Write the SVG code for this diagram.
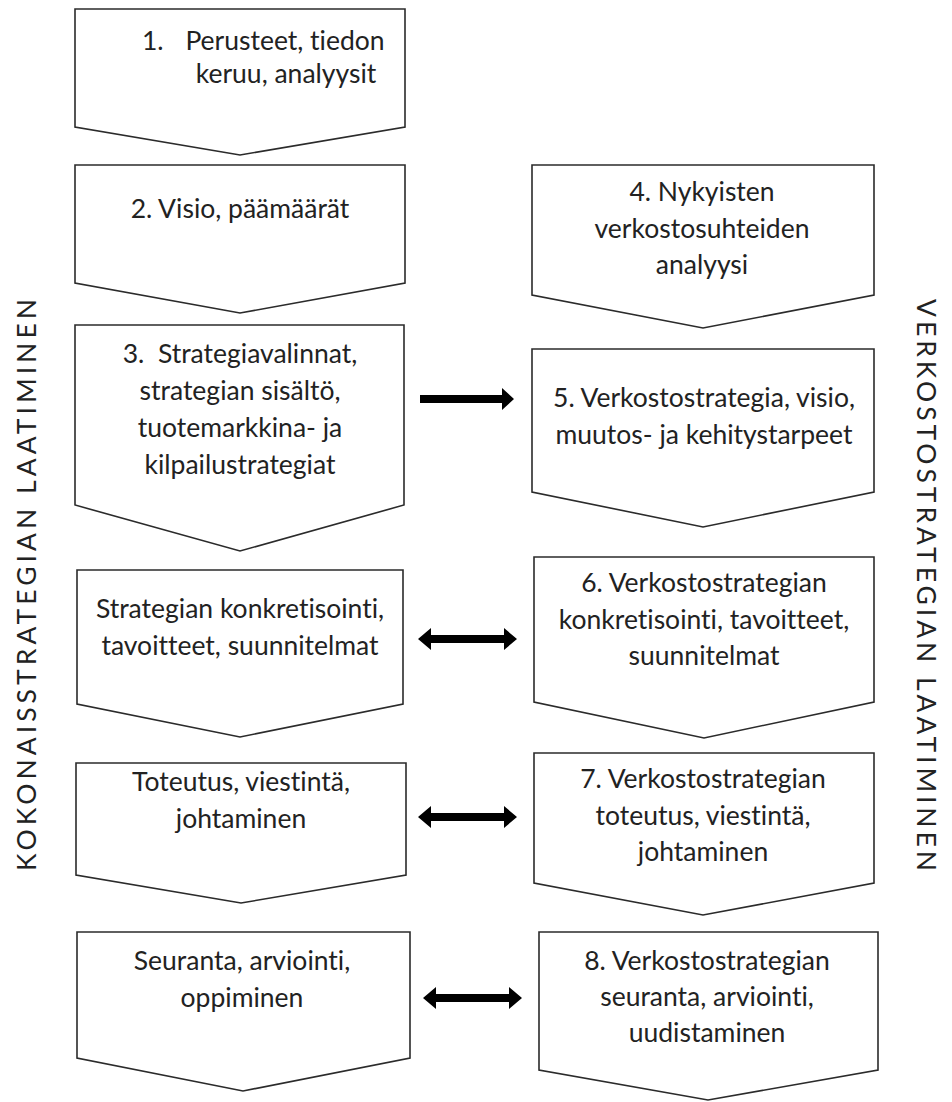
<svg xmlns="http://www.w3.org/2000/svg" width="952" height="1102" viewBox="0 0 952 1102">
<style>
.box{fill:#fff;stroke:#2b2b2b;stroke-width:1.6;stroke-linejoin:miter}
.t{font-family:Lato,"Open Sans","Liberation Sans",sans-serif;font-size:26.5px;fill:#222;text-anchor:middle;font-variant-ligatures:none}
.side{font-family:Lato,"Open Sans","Liberation Sans",sans-serif;font-size:26.5px;fill:#222;text-anchor:middle;font-variant-ligatures:none}
.arr{fill:#000}
</style>
<rect width="952" height="1102" fill="#fff"/>
<g id="n1">
<polygon class="box" points="75,9 405,9 405,127 240,155 75,127"/>
<text class="t" x="142" y="50" style="text-anchor:start">1.</text>
<text class="t" x="285" y="50">Perusteet, tiedon</text>
<text class="t" x="286" y="83">keruu, analyysit</text>
</g>
<g id="n2">
<polygon class="box" points="75,165 405,165 405,283 240,313 75,283"/>
<text class="t" x="240" y="218">2. Visio, päämäärät</text>
</g>
<g id="n3">
<polygon class="box" points="75,325 404,325 404,505 240,551 75,505"/>
<text class="t" x="240" y="363">3.&#160; Strategiavalinnat,</text>
<text class="t" x="240" y="400">strategian sisältö,</text>
<text class="t" x="240" y="437">tuotemarkkina- ja</text>
<text class="t" x="240" y="474">kilpailustrategiat</text>
</g>
<g id="n4">
<polygon class="box" points="532,165 874,165 874,295 703,328 532,295"/>
<text class="t" x="702" y="201">4. Nykyisten</text>
<text class="t" x="702" y="238">verkostosuhteiden</text>
<text class="t" x="702" y="274">analyysi</text>
</g>
<g id="n5">
<polygon class="box" points="532,349 874,349 874,492 703,527 532,492"/>
<text class="t" x="704" y="407">5. Verkostostrategia, visio,</text>
<text class="t" x="704" y="444">muutos- ja kehitystarpeet</text>
</g>
<g id="nL4">
<polygon class="box" points="77,570 403,570 403,704 240,737 77,704"/>
<text class="t" x="240" y="618">Strategian konkretisointi,</text>
<text class="t" x="240" y="655">tavoitteet, suunnitelmat</text>
</g>
<g id="n6">
<polygon class="box" points="534,557 874,557 874,702 704,738 534,702"/>
<text class="t" x="704" y="592">6. Verkostostrategian</text>
<text class="t" x="704" y="629">konkretisointi, tavoitteet,</text>
<text class="t" x="704" y="665">suunnitelmat</text>
</g>
<g id="nL5">
<polygon class="box" points="76,763 406,763 406,875 241,903 76,875"/>
<text class="t" x="241" y="791">Toteutus, viestintä,</text>
<text class="t" x="241" y="828">johtaminen</text>
</g>
<g id="n7">
<polygon class="box" points="534,753 874,753 874,883 703,915 534,883"/>
<text class="t" x="703" y="788">7. Verkostostrategian</text>
<text class="t" x="703" y="825">toteutus, viestintä,</text>
<text class="t" x="703" y="861">johtaminen</text>
</g>
<g id="nL6">
<polygon class="box" points="77,932 410,932 410,1058 243,1091 77,1058"/>
<text class="t" x="242" y="970">Seuranta, arviointi,</text>
<text class="t" x="242" y="1007">oppiminen</text>
</g>
<g id="n8">
<polygon class="box" points="539,932 878,932 878,1070 708,1100 539,1070"/>
<text class="t" x="707" y="970">8. Verkostostrategian</text>
<text class="t" x="707" y="1006">seuranta, arviointi,</text>
<text class="t" x="707" y="1042">uudistaminen</text>
</g>
<g id="labels">
<text class="side" transform="translate(36,585) rotate(-90)" textLength="572" lengthAdjust="spacing">KOKONAISSTRATEGIAN LAATIMINEN</text>
<text class="side" transform="translate(917,585) rotate(90)" textLength="572" lengthAdjust="spacing">VERKOSTOSTRATEGIAN LAATIMINEN</text>
</g>
<g id="connectors">
<polygon class="arr" points="420,395 502,395 502,388 514,399 502,410 502,403 420,403"/>
<polygon class="arr" points="418,639 431,628 431,635 504,635 504,628 517,639 504,650 504,643 431,643 431,650"/>
<polygon class="arr" points="418,817 431,806 431,813 504,813 504,806 517,817 504,828 504,821 431,821 431,828"/>
<polygon class="arr" points="423,998 436,987 436,994 509,994 509,987 522,998 509,1009 509,1002 436,1002 436,1009"/>
</g>
</svg>
